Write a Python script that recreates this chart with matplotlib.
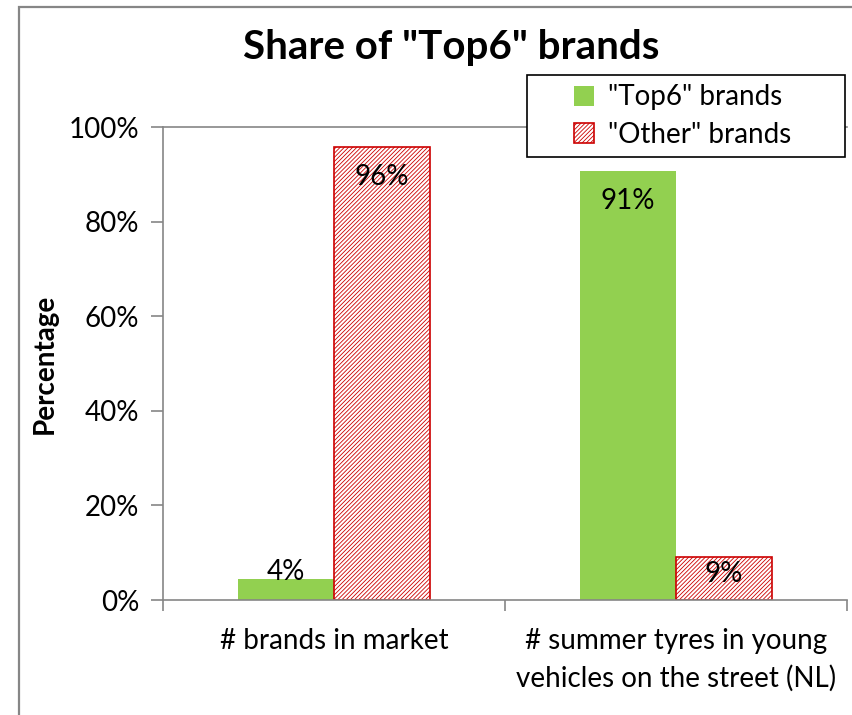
import matplotlib.pyplot as plt
import matplotlib.patches as mpatches
import numpy as np

plt.rcParams['font.family'] = ['Lato', 'DejaVu Sans']
plt.rcParams['hatch.linewidth'] = 0.6

# data
categories = ['# brands in market', '# summer tyres in young\nvehicles on the street (NL)']
top6 = [4.4, 90.8]
other = [95.8, 9.1]
top6_labels = ['4%', '91%']
other_labels = ['96%', '9%']
series_names = ['"Top6" brands', '"Other" brands']
yticks = [0, 20, 40, 60, 80, 100]

green = '#92D050'
red = '#CC0000'
grey = '#868686'
fs = 20

fig = plt.figure(figsize=(8.52, 7.15), dpi=100)
ax = fig.add_axes([0.1913, 0.1608, 0.8028, 0.6615])

x = np.arange(len(categories))
w = 0.28
b1 = ax.bar(x - w/2, top6, w, color=green, edgecolor=green, linewidth=0, label=series_names[0])
b2 = ax.bar(x + w/2, other, w, color='white', edgecolor=red, hatch='////////',
            linewidth=1.2, label=series_names[1])

# data labels - tall bars get label inside near the top, short ones near the top/centre
def put_labels(bars, vals, labels):
    for b, v, lab in zip(bars, vals, labels):
        cx = b.get_x() + b.get_width()/2
        if v > 20:
            ax.annotate(lab, (cx, v), xytext=(0, -30), textcoords='offset pixels',
                        ha='center', va='center', fontsize=fs)
        elif v > 6:
            ax.annotate(lab, (cx, v/2), xytext=(0, 5), textcoords='offset pixels',
                        ha='center', va='center', fontsize=fs)
        else:
            ax.annotate(lab, (cx, v), xytext=(0, 7), textcoords='offset pixels',
                        ha='center', va='center', fontsize=fs)

put_labels(b1, top6, top6_labels)
put_labels(b2, other, other_labels)

ax.set_xlim(-0.5, 1.5)
ax.set_ylim(0, 100)
ax.set_yticks(yticks)
ax.set_yticklabels([f'{t}%' for t in yticks], fontsize=fs)
ax.set_xticks([-0.5, 0.5, 1.5], minor=False)
ax.set_xticklabels([])
ax.set_xticks(x, minor=True)
ax.set_xticklabels(categories, minor=True, fontsize=fs, linespacing=1.5)
ax.tick_params(axis='x', which='minor', length=0, pad=20)
ax.tick_params(axis='x', which='major', length=8, color=grey, width=1.2)
ax.tick_params(axis='y', length=9, color=grey, width=1.2, pad=8)

for s in ['left', 'bottom', 'top']:
    ax.spines[s].set_color(grey)
    ax.spines[s].set_linewidth(1.2)
ax.spines['right'].set_visible(False)

ax.set_ylabel('Percentage', fontsize=fs, fontweight='bold', labelpad=8)
fig.text(0.53, 0.934, 'Share of "Top6" brands', ha='center', va='center',
         fontsize=29, fontweight='bold')

# legend box (frame drawn separately so it can be wider than the entries)
lx0, lx1, ly0, ly1 = 527/852, 845/852, 1 - 157/715, 1 - 75/715
fig.patches.append(mpatches.Rectangle((lx0, ly0), lx1 - lx0, ly1 - ly0,
                                      transform=fig.transFigure, facecolor='white',
                                      edgecolor='black', linewidth=1.2, zorder=9))
leg = fig.legend(handles=[b1, b2], loc='center',
                 bbox_to_anchor=((lx0 + lx1)/2 - 0.004, (ly0 + ly1)/2),
                 fontsize=fs, frameon=False,
                 handlelength=0.75, handleheight=0.75, handletextpad=0.5,
                 borderpad=0.3, labelspacing=0.4, borderaxespad=0)
leg.set_zorder(10)

# outer chart frame
fig.patches.append(mpatches.Rectangle((19/852, -0.1), 1.2, 1 - 7/715 + 0.1,
                                      transform=fig.transFigure, fill=False,
                                      edgecolor=grey, linewidth=1.6))

fig.savefig('out.png', dpi=100)
